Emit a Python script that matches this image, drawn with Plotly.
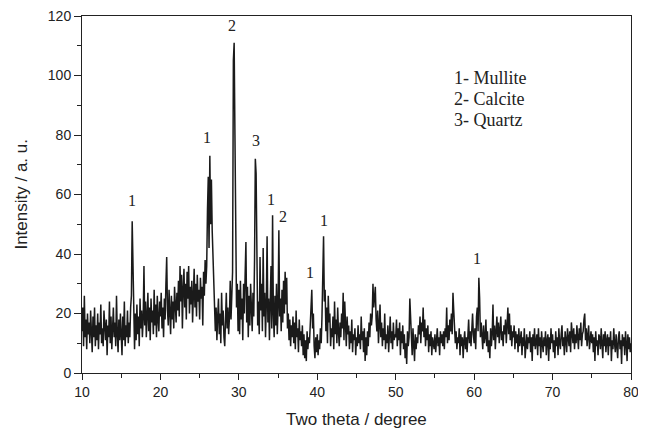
import plotly.graph_objects as go

# Two-theta grid: 10.0 to 80.0 in steps of 0.1 degree
two_theta_start = 10.0
two_theta_step = 0.1

# Intensities, 10 values per degree
seg_10_20 = [
    14, 22, 9, 26, 12, 18, 8, 20, 13, 17,
    10, 21, 14, 7, 19, 12, 22, 9, 16, 11,
    20, 8, 17, 13, 23, 10, 15, 9, 21, 14,
    11, 18, 6, 16, 12, 24, 10, 19, 8, 15,
    22, 12, 17, 9, 26, 13, 7, 18, 11, 20,
    14, 6, 19, 11, 24, 9, 16, 12, 21, 10,
    17, 12, 22, 26, 51, 33, 14, 8, 20, 11,
    23, 13, 19, 9, 25, 15, 21, 12, 18, 36,
    16, 24, 12, 20, 27, 14, 22, 11, 25, 17,
    21, 13, 28, 16, 23, 12, 26, 18, 14, 24,
]
seg_20_30 = [
    19, 27, 15, 22, 12, 25, 18, 30, 39, 21,
    16, 28, 20, 13, 26, 18, 24, 15, 29, 22,
    17, 27, 21, 31, 19, 36, 24, 33, 15, 28,
    35, 22, 30, 18, 34, 25, 36, 20, 29, 23,
    31, 17, 27, 35, 22, 30, 19, 33, 24, 28,
    18, 32, 25, 29, 16, 34, 26, 38, 30, 36,
    55, 66, 42, 73, 50, 65, 48, 38, 30, 24,
    14, 22, 11, 19, 25, 13, 20, 10, 27, 16,
    21, 12, 9, 18, 27, 15, 22, 13, 19, 31,
    18, 26, 34, 105, 111, 80, 40, 22, 30, 14,
]
seg_30_40 = [
    28, 13, 31, 18, 25, 11, 30, 20, 33, 44,
    17, 29, 12, 26, 16, 30, 22, 14, 27, 19,
    38, 72, 67, 28, 16, 24, 13, 39, 21, 30,
    14, 42, 19, 27, 12, 23, 46, 17, 25, 11,
    28, 36, 15, 53, 20, 12, 26, 16, 30, 13,
    22, 48, 19, 25, 14, 28, 17, 31, 20, 34,
    23, 32, 15, 20, 11, 18, 9, 16, 12, 19,
    10, 17, 8, 21, 12, 15, 7, 18, 11, 14,
    9, 16, 6, 13, 5, 11, 4, 14, 8, 12,
    10, 18, 24, 28, 15, 20, 9, 5, 12, 7,
]
seg_40_50 = [
    13, 6, 11, 8, 15, 10, 19, 30, 46, 24,
    28, 14, 22, 10, 26, 17, 20, 9, 15, 12,
    19, 8, 24, 13, 18, 10, 22, 14, 9, 17,
    12, 20, 15, 27, 11, 24, 16, 9, 19, 13,
    16, 8, 14, 10, 18, 7, 13, 11, 15, 6,
    12, 9, 16, 10, 13, 8, 19, 11, 14, 7,
    15, 4, 12, 6, 14, 9, 17, 12, 20, 16,
    19, 30, 22, 26, 29, 18, 14, 21, 10, 16,
    23, 12, 17, 9, 15, 11, 20, 8, 13, 10,
    16, 7, 12, 19, 10, 14, 8, 17, 11, 13,
]
seg_50_60 = [
    12, 18, 9, 15, 11, 17, 6, 14, 10, 16,
    8, 13, 5, 10, 3, 14, 9, 12, 25, 16,
    11, 6, 15, 9, 4, 13, 8, 12, 10, 16,
    13, 19, 10, 17, 14, 22, 12, 18, 9, 15,
    11, 16, 7, 13, 9, 14, 6, 12, 10, 8,
    13, 7, 11, 15, 9, 12, 6, 14, 10, 13,
    9, 14, 8, 15, 12, 22, 10, 16, 11, 18,
    14, 20, 13, 27, 21, 16, 10, 14, 8, 12,
    10, 15, 6, 13, 9, 12, 5, 11, 14, 8,
    12, 7, 13, 18, 10, 14, 9, 16, 20, 13,
]
seg_60_70 = [
    10, 15, 8, 19, 22, 14, 32, 25, 12, 17,
    13, 8, 16, 10, 12, 18, 9, 14, 7, 11,
    5, 15, 9, 13, 23, 11, 16, 8, 14, 19,
    12, 17, 10, 15, 19, 11, 14, 9, 16, 13,
    18, 10, 15, 22, 13, 20, 11, 16, 9, 14,
    12, 16, 8, 14, 10, 13, 7, 15, 9, 11,
    14, 6, 12, 9, 15, 5, 11, 13, 8, 12,
    10, 14, 7, 12, 4, 13, 9, 15, 8, 11,
    13, 6, 15, 9, 12, 5, 14, 10, 7, 12,
    9, 14, 6, 11, 13, 4, 12, 8, 15, 10,
]
seg_70_80 = [
    13, 7, 11, 5, 14, 9, 12, 6, 15, 10,
    8, 13, 16, 9, 12, 6, 14, 11, 7, 15,
    11, 9, 14, 7, 17, 12, 10, 15, 8, 13,
    10, 16, 12, 8, 15, 11, 17, 9, 13, 14,
    18, 20, 11, 15, 9, 13, 16, 8, 12, 14,
    10, 13, 7, 12, 4, 14, 9, 11, 6, 13,
    12, 8, 15, 10, 5, 13, 9, 14, 7, 11,
    13, 6, 12, 9, 14, 4, 11, 8, 15, 10,
    7, 13, 10, 5, 12, 14, 8, 11, 3, 13,
    9, 12, 6, 14, 10, 4, 13, 8, 12, 7,
    10,
]

intensity = seg_10_20 + seg_20_30 + seg_30_40 + seg_40_50 + seg_50_60 + seg_60_70 + seg_70_80
two_theta = [round(two_theta_start + i * two_theta_step, 2) for i in range(len(intensity))]

# Peak labels (phase id, x, y)
peak_label_text = ["1", "1", "2", "3", "1", "2", "1", "1", "1"]
peak_label_x = [16.34, 25.98, 29.16, 32.19, 34.1, 35.59, 39.11, 40.86, 60.36]
peak_label_y = [58.1, 79.0, 116.7, 78.1, 58.4, 52.5, 33.8, 51.2, 38.5]

legend_lines = ["1- Mullite", "2- Calcite", "3- Quartz"]
legend_x = 57.2
legend_y = [99.2, 92.1, 85.2]

x_ticks = [10, 20, 30, 40, 50, 60, 70, 80]
y_ticks = [0, 20, 40, 60, 80, 100, 120]

fig = go.Figure()
fig.add_trace(go.Scatter(
    x=two_theta, y=intensity, mode="lines",
    line=dict(color="#1a1a1a", width=1.5),
    showlegend=False, hoverinfo="skip",
))

serif = "Liberation Serif, Times New Roman, serif"
sans = "Liberation Sans, Arial, sans-serif"
for t, xx, yy in zip(peak_label_text, peak_label_x, peak_label_y):
    fig.add_annotation(x=xx, y=yy, text=t, showarrow=False,
                       font=dict(family=serif, size=16, color="#222"))
for t, yy in zip(legend_lines, legend_y):
    fig.add_annotation(x=legend_x, y=yy, text=t, showarrow=False, xanchor="left",
                       font=dict(family=serif, size=18, color="#222"))

# axis titles as paper annotations
fig.add_annotation(x=0.5, y=-0.13, xref="paper", yref="paper", text="Two theta / degree",
                   showarrow=False, xanchor="center", yanchor="middle",
                   font=dict(family=sans, size=17, color="#222"))
fig.add_annotation(x=-0.111, y=0.5, xref="paper", yref="paper", text="Intensity / a. u.",
                   showarrow=False, xanchor="center", yanchor="middle", textangle=-90,
                   font=dict(family=sans, size=17, color="#222"))

axis_font = dict(family=sans, size=14, color="#222")
fig.update_xaxes(
    range=[10, 80], tickvals=x_ticks, ticks="outside", ticklen=6, tickwidth=1,
    tickcolor="#222", showline=True, linecolor="#222", linewidth=1, mirror=True,
    showgrid=False, zeroline=False, tickfont=axis_font, automargin=False,
    ticklabeloverflow="allow",
    minor=dict(tickvals=[15, 25, 35, 45, 55, 65, 75], ticks="outside", ticklen=4, tickcolor="#222"),
)
fig.update_yaxes(
    range=[0, 120], tickvals=y_ticks, ticks="outside", ticklen=7, tickwidth=1,
    tickcolor="#222", showline=True, linecolor="#222", linewidth=1, mirror=True,
    showgrid=False, zeroline=False, tickfont=axis_font, automargin=False,
    ticklabeloverflow="allow",
    minor=dict(tickvals=[10, 30, 50, 70, 90, 110], ticks="outside", ticklen=4, tickcolor="#222"),
)
fig.update_layout(
    width=638, height=423,
    margin=dict(l=74, r=15, t=8, b=58, autoexpand=False),
    paper_bgcolor="white", plot_bgcolor="white",
)
fig.write_html("out.html")
